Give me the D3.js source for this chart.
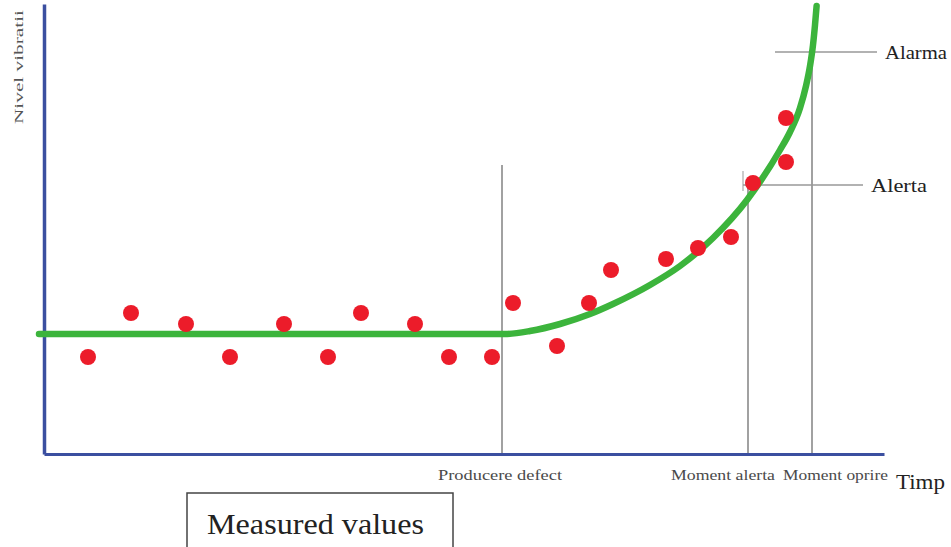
<!DOCTYPE html>
<html>
<head>
<meta charset="utf-8">
<script src="https://cdn.jsdelivr.net/npm/d3@7"></script>
<style>
  html, body { margin: 0; padding: 0; background: #fff; }
  svg { display: block; }
</style>
</head>
<body>
<svg id="chart" width="951" height="547"></svg>
<script>
// ---- data (time units on x, vibration level units on y) ----
const pointTime  = [2.2, 4.35, 7.1, 9.3, 12.0, 14.2, 15.85, 18.55, 20.25, 22.4, 23.45, 25.65, 27.25, 28.35, 31.1, 32.7, 34.35, 35.45, 37.1, 37.1];
const pointLevel = [9.7, 14.1, 13.0, 9.7, 13.0, 9.7, 14.1, 13.0, 9.7, 9.7, 15.1, 10.8, 15.1, 18.4, 19.5, 20.6, 21.7, 27.1, 29.2, 33.6];

const trendTime  = [-0.25, 23.05, 24.3, 25.8, 27.3, 28.45, 30.3, 31.8, 33.45, 35.15, 36.8, 37.3, 37.8, 38.1, 38.3, 38.45, 38.55, 38.63];
const trendLevel = [12.0, 12.0, 12.3, 13.0, 14.0, 15.0, 16.9, 18.8, 21.6, 25.4, 30.4, 32.2, 34.6, 36.8, 38.8, 40.9, 42.9, 44.8];

const eventNames = ["Producere defect", "Moment alerta", "Moment oprire"];
const eventTimes = [22.9, 35.2, 38.4];
const eventTops  = [28.9, 26.9, 40.2];

const thresholdNames  = ["Alerta", "Alarma"];
const thresholdLevels = [26.9, 40.2];
const thresholdFrom   = [34.95, 36.55];
const thresholdTo     = [40.95, 41.65];

const xTitle = "Timp";
const yTitle = "Nivel vibratii";
const legendLabel = "Measured values";

// ---- scales ----
const svg = d3.select("#chart");
const x = d3.scaleLinear().domain([0, 42]).range([44, 884]);
const y = d3.scaleLinear().domain([0, 45]).range([454, 4]);

const gray = "#8a8a8a";
const serif = "'Liberation Serif', 'Times New Roman', serif";

// event vertical lines
eventTimes.forEach((t, i) => {
  svg.append("line")
    .attr("x1", x(t)).attr("x2", x(t))
    .attr("y1", y(eventTops[i])).attr("y2", y(0))
    .attr("stroke", gray).attr("stroke-width", 1.6);
});
// small tick at alert level
svg.append("line")
  .attr("x1", x(thresholdFrom[0])).attr("x2", x(thresholdFrom[0]))
  .attr("y1", y(thresholdLevels[0]) + 6).attr("y2", y(thresholdLevels[0]) - 14)
  .attr("stroke", "#aaa").attr("stroke-width", 1.2);

// threshold horizontal lines + labels
const thrLabelWidths = [56, 62];
thresholdLevels.forEach((v, i) => {
  svg.append("line")
    .attr("x1", x(thresholdFrom[i])).attr("x2", x(thresholdTo[i]))
    .attr("y1", y(v)).attr("y2", y(v))
    .attr("stroke", "#999").attr("stroke-width", 1.4);
  svg.append("text")
    .attr("x", x(thresholdTo[i]) + 8).attr("y", y(v))
    .attr("dy", "0.35em")
    .attr("font-family", serif).attr("font-size", 19)
    .attr("fill", "#222")
    .attr("textLength", thrLabelWidths[i]).attr("lengthAdjust", "spacingAndGlyphs")
    .text(thresholdNames[i]);
});

// axes (plain lines, no ticks)
const xAxis = d3.axisBottom(x).tickValues([]).tickSizeOuter(0);
const gx = svg.append("g").attr("transform", `translate(0,${y(0)})`).call(xAxis);
gx.select(".domain").attr("stroke", "#3b4fa0").attr("stroke-width", 3);
const yAxis = d3.axisLeft(y).tickValues([]).tickSizeOuter(0);
const gy = svg.append("g").attr("transform", `translate(${x(0)},0)`).call(yAxis);
gy.select(".domain").attr("stroke", "#3b4fa0").attr("stroke-width", 3.5);

// trend curve
const line = d3.line()
  .x((d, i) => x(trendTime[i]))
  .y((d, i) => y(trendLevel[i]))
  .curve(d3.curveMonotoneX);
svg.append("path")
  .datum(trendLevel)
  .attr("d", line)
  .attr("fill", "none")
  .attr("stroke", "#3cb43c")
  .attr("stroke-width", 6.5)
  .attr("stroke-linecap", "round");

// measured points
svg.selectAll("circle.pt")
  .data(pointLevel)
  .join("circle")
  .attr("class", "pt")
  .attr("cx", (d, i) => x(pointTime[i]))
  .attr("cy", d => y(d))
  .attr("r", 8)
  .attr("fill", "#ec1c2a");

// event labels
const labelLeft   = [438, 671, 783];
const labelWidths = [124, 104, 105];
eventNames.forEach((name, i) => {
  svg.append("text")
    .attr("x", labelLeft[i]).attr("y", 475)
    .attr("dy", "0.35em")
    .attr("font-family", serif).attr("font-size", 15)
    .attr("fill", "#4a4a4a")
    .attr("textLength", labelWidths[i])
    .attr("lengthAdjust", "spacingAndGlyphs")
    .text(name);
});

// axis titles
svg.append("text")
  .attr("x", 896).attr("y", 482).attr("dy", "0.35em")
  .attr("font-family", serif).attr("font-size", 21)
  .attr("fill", "#222")
  .attr("textLength", 49).attr("lengthAdjust", "spacingAndGlyphs")
  .text(xTitle);

svg.append("text")
  .attr("transform", "translate(18,67) rotate(-90)")
  .attr("text-anchor", "middle").attr("dy", "0.35em")
  .attr("font-family", serif).attr("font-size", 13)
  .attr("fill", "#555")
  .attr("textLength", 114).attr("lengthAdjust", "spacingAndGlyphs")
  .text(yTitle);

// legend box
svg.append("rect")
  .attr("x", 187).attr("y", 493).attr("width", 266).attr("height", 70)
  .attr("fill", "#fff").attr("stroke", "#444").attr("stroke-width", 1.5);
svg.append("text")
  .attr("x", 207).attr("y", 524).attr("dy", "0.35em")
  .attr("font-family", serif).attr("font-size", 29)
  .attr("fill", "#222")
  .attr("textLength", 217).attr("lengthAdjust", "spacingAndGlyphs")
  .text(legendLabel);
</script>
</body>
</html>
